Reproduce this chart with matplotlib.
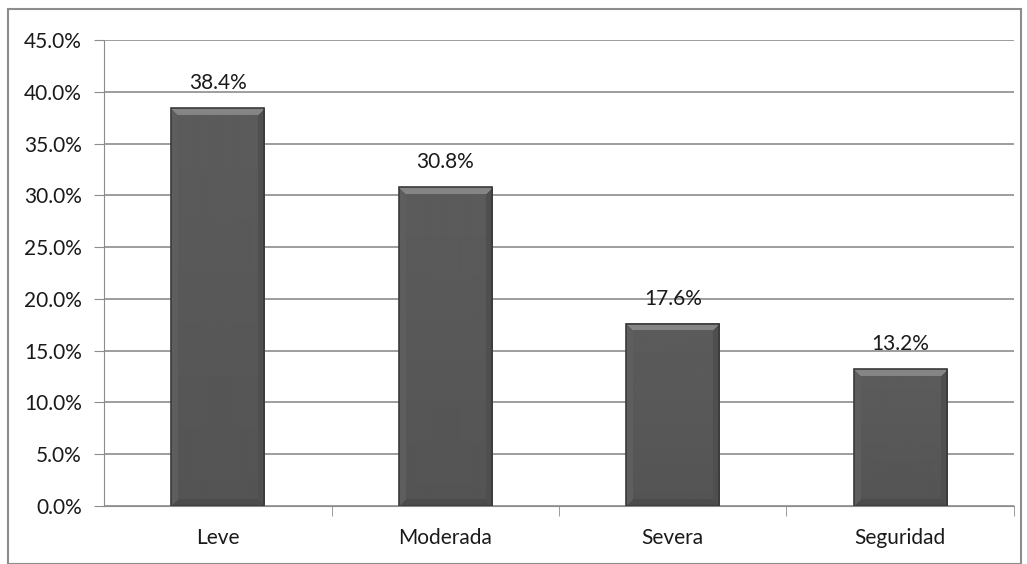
import numpy as np
import matplotlib.pyplot as plt
from matplotlib.patches import Rectangle
from matplotlib.ticker import FuncFormatter, FixedLocator

categorias = ["Leve", "Moderada", "Severa", "Seguridad"]
porcentajes = [38.4, 30.8, 17.6, 13.2]
etiquetas = ["38.4%", "30.8%", "17.6%", "13.2%"]

plt.rcParams['font.family'] = ['Lato', 'DejaVu Sans']


def bevel_img(h, w, b=7):
    # grey levels for a bevelled bar (Excel-like)
    yy, xx = np.mgrid[0:h, 0:w]
    dt, db = yy, h - 1 - yy
    dl, dr = xx, w - 1 - xx
    img = 0.33 + 0.03 * (1 - yy / max(h, 1))
    img = np.where(db < b, 0.30, img)
    img = np.where((dr < b) & (dr <= db), 0.31, img)
    img = np.where((dl < b) & (dl <= db), 0.37, img)
    img = np.where((dt < b) & (dt <= dl) & (dt <= dr), 0.52, img)
    return img


fig = plt.figure(figsize=(10.27, 5.64), dpi=100)
ax = fig.add_axes([104 / 1027, 1 - 506 / 564, 910 / 1027, 466 / 564])

# outer chart border
fig.patches.append(Rectangle((8 / 1027, 0), 1013 / 1027, 1 - 9 / 564,
                             transform=fig.transFigure, fill=False,
                             edgecolor="#8c8c8c", linewidth=1.5))

x = list(range(len(categorias)))
ancho = 0.41
ax.set_xlim(-0.5, 3.5)
ax.set_ylim(0, 45)
bars = ax.bar(x, porcentajes, width=ancho, color="none",
              edgecolor="#3a3a3a", linewidth=1.2, zorder=4)
for b in bars:
    hp = int(round(b.get_height() * 466 / 45))
    wp = int(round(ancho * 910 / 4))
    ax.imshow(bevel_img(hp, wp), cmap="gray", vmin=0, vmax=1,
              extent=(b.get_x(), b.get_x() + b.get_width(), 0, b.get_height()),
              aspect="auto", interpolation="bilinear", zorder=3)

for xi, v, t in zip(x, porcentajes, etiquetas):
    ax.text(xi, v + 1.85, t, ha="center", va="baseline", fontsize=15,
            color="#1a1a1a")

ax.set_xlim(-0.5, 3.5)
ax.set_ylim(0, 45)
ax.set_yticks([i * 5 for i in range(10)])
ax.yaxis.set_major_formatter(FuncFormatter(lambda v, p: "%.1f%%" % v))
ax.set_xticks(x)
ax.set_xticklabels(categorias)
ax.xaxis.set_minor_locator(FixedLocator([0.5, 1.5, 2.5, 3.5]))
ax.tick_params(axis="x", which="major", length=0, pad=16, labelsize=15,
               labelcolor="#1a1a1a")
ax.tick_params(axis="x", which="minor", length=7, color="#8c8c8c")
ax.tick_params(axis="y", length=7, color="#8c8c8c", labelsize=15,
               labelcolor="#1a1a1a", pad=9)
ax.grid(axis="y", color="#8c8c8c", linewidth=1.2, zorder=0)
for s in ["top", "right"]:
    ax.spines[s].set_visible(False)
ax.spines["left"].set_color("#8c8c8c")
ax.spines["bottom"].set_color("#8c8c8c")

fig.savefig("out.png", dpi=100)
